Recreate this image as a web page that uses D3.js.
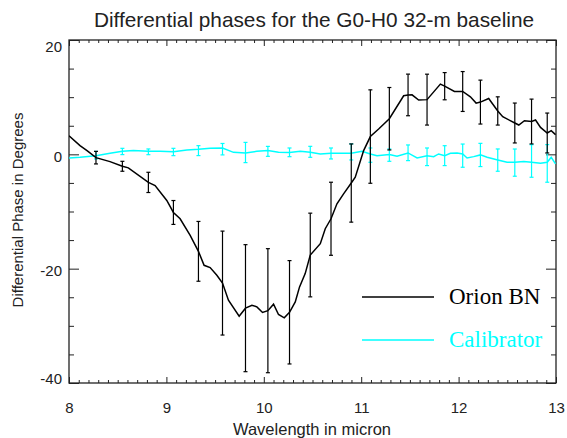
<!DOCTYPE html>
<html>
<head>
<meta charset="utf-8">
<script src="https://cdn.jsdelivr.net/npm/d3@7"></script>
<style>
  body { margin: 0; background: #fff; }
  svg { display: block; font-family: "Liberation Sans", Arial, sans-serif; }
</style>
</head>
<body>
<script>
// Orion BN differential phase curve (wavelength in micron, phase in degrees)
const orionWl = [8.000, 8.113, 8.185, 8.277, 8.421, 8.548, 8.609, 8.815, 8.884, 9.004, 9.072, 9.141, 9.244, 9.329,
  9.387, 9.449, 9.518, 9.576, 9.637, 9.747, 9.812, 9.878, 9.929, 9.987, 10.042, 10.100, 10.151, 10.210, 10.264,
  10.323, 10.367, 10.425, 10.477, 10.580, 10.631, 10.690, 10.751, 10.819, 10.898, 10.939, 11.025, 11.094, 11.179,
  11.289, 11.436, 11.481, 11.522, 11.590, 11.676, 11.813, 11.857, 11.957, 12.042, 12.121, 12.180, 12.224, 12.309,
  12.402, 12.453, 12.577, 12.618, 12.676, 12.749, 12.790, 12.841, 12.910, 12.951, 12.995];
const orionPh = [3.26, 1.52, 0.65, -0.58, -1.27, -2.09, -2.37, -4.91, -5.46, -8.07, -10.17, -11.27, -14.18, -16.97,
  -19.41, -19.81, -21.15, -22.52, -25.51, -28.30, -26.91, -26.39, -26.68, -27.66, -27.35, -26.21, -28.01, -28.60, -27.63,
  -25.81, -23.19, -20.86, -17.61, -15.63, -13.01, -11.27, -8.65, -6.91, -5.02, -4.01, 0.65, 3.11, 4.43,
  6.23, 10.24, 10.39, 10.41, 9.49, 9.57, 12.28, 11.92, 10.99, 10.99, 10.06, 8.96, 9.14, 9.77,
  7.59, 6.57, 5.48, 5.13, 5.88, 5.74, 6.00, 4.71, 3.73, 4.13, 3.44];

// Calibrator differential phase curve
const calWl = [8.000, 8.113, 8.277, 8.421, 8.548, 8.661, 8.815, 8.935, 9.072, 9.210, 9.329, 9.449, 9.576, 9.689,
  9.812, 9.929, 10.042, 10.151, 10.264, 10.374, 10.477, 10.580, 10.690, 10.898, 11.008, 11.094, 11.162, 11.289,
  11.368, 11.481, 11.574, 11.676, 11.744, 11.795, 11.857, 11.916, 11.985, 12.042, 12.087, 12.155, 12.224, 12.293,
  12.402, 12.498, 12.577, 12.669, 12.749, 12.841, 12.910, 12.951, 12.995];
const calPh = [-0.63, -0.52, -0.23, 0.17, 0.52, 0.65, 0.52, 0.52, 0.47, 0.77, 0.87, 1.05, 1.12, 0.35,
  0.24, 0.52, 0.65, 0.35, 0.30, 0.52, 0.35, 0.07, 0.17, 0.17, 0.52, 0.07, -0.23, -0.05,
  -0.35, 0.24, -0.63, -0.23, -0.40, 0.07, -0.23, 0.17, 0.24, 0.07, -0.63, -0.40, -0.10, -0.52,
  -0.98, -1.40, -1.40, -1.27, -1.40, -1.57, -1.40, -0.52, -1.68];

// Error bars (shared wavelengths)
const errWl = [8.277, 8.548, 8.815, 9.072, 9.329, 9.576, 9.812, 10.042, 10.264, 10.477, 10.690, 10.898,
  11.094, 11.289, 11.481, 11.676, 11.857, 12.042, 12.224, 12.402, 12.577, 12.749, 12.910];
const orionErrMid = [-0.58, -2.09, -4.91, -10.17, -16.97, -22.52, -26.91, -27.35, -27.63, -17.61, -11.27, -5.02,
  3.11, 6.23, 10.39, 9.57, 11.92, 10.99, 9.14, 7.59, 5.48, 5.74, 3.73];
const orionErrHalf = [1.1, 0.87, 1.77, 2.09, 5.23, 9.09, 11.11, 10.85, 9.04, 7.32, 6.39, 6.84,
  8.17, 5.46, 3.64, 4.45, 2.38, 3.49, 3.84, 2.47, 3.49, 3.92, 3.49];
const calErrMid = [-0.14, 0.5, 0.44, 0.41, 0.65, 0.9, 0.32, 0.52, 0.35, 0.44, 0.15, 0.42,
  -0.14, -0.14, 0.27, -0.43, -0.23, -0.23, -0.11, -1.01, -1.45, -1.16, -1.59];
const calErrHalf = [0.66, 0.55, 0.5, 0.64, 0.87, 1.0, 1.77, 0.87, 0.76, 0.96, 0.96, 1.4,
  1.25, 1.08, 1.37, 1.54, 1.74, 2.03, 2.03, 1.95, 2.38, 2.85, 3.29];

// Ticks
const xTicks = [8, 9, 10, 11, 12, 13];
const yTicks = [-40, -20, 0, 20];
const xMinor = d3.range(80, 131).filter(v => v % 10 !== 0).map(v => v / 10);
const yMinor = [-35, -30, -25, -15, -10, -5, 5, 10, 15];

const seriesNames = ["Orion BN", "Calibrator"];
const seriesColors = ["#000000", "#00ffff"];

const WIDTH = 567, HEIGHT = 438;
const mLeft = 69, mRight = 556, mTop = 40, mBottom = 383;

const svg = d3.select("body").append("svg").attr("width", WIDTH).attr("height", HEIGHT);

const x = d3.scaleLinear().domain([8, 13]).range([mLeft, mRight]);
const y = d3.scaleLinear().domain([-40, 20]).range([mBottom, mTop]);

svg.append("defs").append("clipPath").attr("id", "plot")
  .append("rect").attr("x", mLeft).attr("y", mTop).attr("width", mRight - mLeft).attr("height", mBottom - mTop);

// Title
svg.append("text").attr("x", 314).attr("y", 26.5).attr("text-anchor", "middle")
  .attr("font-size", 20.8).attr("fill", "#222")
  .text("Differential phases for the G0-H0 32-m baseline");

// Axes: all ticks point inward
function styleAxis(g) {
  g.select(".domain").remove();
  g.selectAll("line").attr("stroke", "#222").attr("stroke-width", 1);
  g.selectAll("text").attr("fill", "#222").attr("font-size", 15)
    .attr("font-family", "'Liberation Sans', Arial, sans-serif");
}
const plainFmt = d => String(d);

svg.append("g").attr("transform", `translate(0,${mBottom})`)
  .call(d3.axisBottom(x).tickValues(xTicks).tickFormat(plainFmt).tickSize(-6).tickSizeOuter(0).tickPadding(19))
  .call(styleAxis);
svg.append("g").attr("transform", `translate(0,${mBottom})`)
  .call(d3.axisBottom(x).tickValues(xMinor).tickFormat("").tickSize(-3).tickSizeOuter(0))
  .call(styleAxis);
svg.append("g").attr("transform", `translate(0,${mTop})`)
  .call(d3.axisTop(x).tickValues(xTicks).tickFormat("").tickSize(-6).tickSizeOuter(0))
  .call(styleAxis);
svg.append("g").attr("transform", `translate(0,${mTop})`)
  .call(d3.axisTop(x).tickValues(xMinor).tickFormat("").tickSize(-3).tickSizeOuter(0))
  .call(styleAxis);

const yAxisG = svg.append("g").attr("transform", `translate(${mLeft},0)`)
  .call(d3.axisLeft(y).tickValues(yTicks).tickFormat(plainFmt).tickSize(-10).tickSizeOuter(0).tickPadding(7))
  .call(styleAxis);
yAxisG.selectAll("text").attr("dy", d => d === 20 ? "0.75em" : d === -40 ? "0.03em" : "0.45em");
svg.append("g").attr("transform", `translate(${mLeft},0)`)
  .call(d3.axisLeft(y).tickValues(yMinor).tickFormat("").tickSize(-5).tickSizeOuter(0))
  .call(styleAxis);
svg.append("g").attr("transform", `translate(${mRight},0)`)
  .call(d3.axisRight(y).tickValues(yTicks).tickFormat("").tickSize(-10).tickSizeOuter(0))
  .call(styleAxis);
svg.append("g").attr("transform", `translate(${mRight},0)`)
  .call(d3.axisRight(y).tickValues(yMinor).tickFormat("").tickSize(-5).tickSizeOuter(0))
  .call(styleAxis);

// Frame
svg.append("rect").attr("x", mLeft).attr("y", mTop).attr("width", mRight - mLeft).attr("height", mBottom - mTop)
  .attr("fill", "none").attr("stroke", "#222").attr("stroke-width", 1.3);

// Axis titles
svg.append("text").attr("x", 312).attr("y", 435).attr("text-anchor", "middle")
  .attr("font-size", 16.5).attr("fill", "#222").text("Wavelength in micron");
svg.append("text").attr("transform", "translate(23,210) rotate(-90)").attr("text-anchor", "middle")
  .attr("font-size", 15).attr("fill", "#222").text("Differential Phase in Degrees");

// Data
const plot = svg.append("g").attr("clip-path", "url(#plot)");
const line = d3.line().x(d => x(d[0])).y(d => y(d[1]));

function drawErrors(mid, half, color) {
  const g = plot.append("g").attr("stroke", color).attr("stroke-width", 1.2).attr("fill", "none");
  errWl.forEach((w, i) => {
    const cx = x(w), y1 = y(mid[i] + half[i]), y2 = y(mid[i] - half[i]);
    g.append("line").attr("x1", cx).attr("x2", cx).attr("y1", y1).attr("y2", y2);
    g.append("line").attr("x1", cx - 2).attr("x2", cx + 2).attr("y1", y1).attr("y2", y1);
    g.append("line").attr("x1", cx - 2).attr("x2", cx + 2).attr("y1", y2).attr("y2", y2);
  });
}

drawErrors(calErrMid, calErrHalf, seriesColors[1]);
plot.append("path").datum(d3.zip(calWl, calPh)).attr("d", line)
  .attr("fill", "none").attr("stroke", seriesColors[1]).attr("stroke-width", 1.5);

drawErrors(orionErrMid, orionErrHalf, seriesColors[0]);
plot.append("path").datum(d3.zip(orionWl, orionPh)).attr("d", line)
  .attr("fill", "none").attr("stroke", seriesColors[0]).attr("stroke-width", 1.5);

// Legend
const legend = svg.append("g");
seriesNames.forEach((name, i) => {
  const ly = 297 + i * 43;
  legend.append("line").attr("x1", 362).attr("x2", 434).attr("y1", ly).attr("y2", ly)
    .attr("stroke", seriesColors[i]).attr("stroke-width", 1.5);
  legend.append("text").attr("x", 449).attr("y", ly + 7)
    .attr("font-family", "'Liberation Serif', 'Times New Roman', serif")
    .attr("font-size", 23).attr("fill", seriesColors[i]).text(name);
});
</script>
</body>
</html>
